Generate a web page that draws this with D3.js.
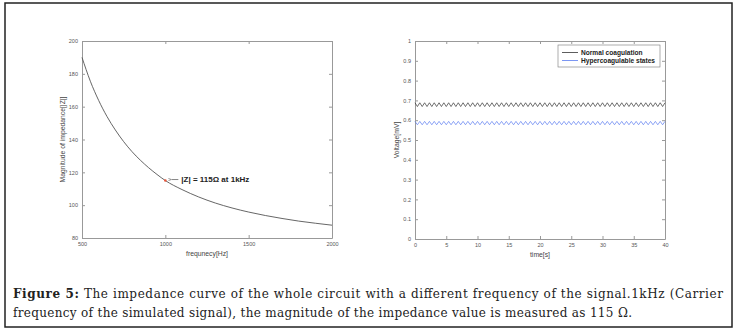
<!DOCTYPE html>
<html>
<head>
<meta charset="utf-8">
<script src="https://cdn.jsdelivr.net/npm/d3@7"></script>
<style>
  body { margin: 0; background: #fff; }
  svg { display: block; }
  .tick text { font-family: "Liberation Sans", Arial, sans-serif; font-size: 5.5px; fill: #555; }
  .tick line { stroke: #999; }
  .domain { stroke: #999; }
</style>
</head>
<body>
<div class="main"></div>
<script>
// impedance curve
let freq = [500, 550, 600, 650, 700, 750, 800, 850, 900, 950, 1000, 1100, 1200, 1300, 1400, 1500, 1600, 1700, 1800, 1900, 2000];
let impedance = [190, 175.5, 163.8, 154, 145.8, 138.7, 132.6, 127.4, 122.8, 118.7, 115, 109.5, 105, 101.3, 98.3, 95.8, 93.7, 91.9, 90.3, 89, 87.8];
let freqTicks = [500, 1000, 1500, 2000];
let impTicks = [80, 100, 120, 140, 160, 180, 200];

// voltage signals: one peak/trough pair per cycle
let timeTicks = [0, 5, 10, 15, 20, 25, 30, 35, 40];
let voltTicks = [0, 0.1, 0.2, 0.3, 0.4, 0.5, 0.6, 0.7, 0.8, 0.9, 1];
let cycles = 52;
let normalCycle = [0.688, 0.669];
let hyperCycle = [0.594, 0.577];
let seriesNames = ["Normal coagulation", "Hypercoagulable states"];
let seriesColors = ["#333", "#5b7cf0"];

let width = 738, height = 333;

let svg = d3.select("div.main").append("svg")
  .attr("width", width)
  .attr("height", height);

// outer frame
svg.append("rect")
  .attr("x", 5).attr("y", 3)
  .attr("width", 727).attr("height", 324)
  .attr("fill", "none")
  .attr("stroke", "#222")
  .attr("stroke-width", 1.5);

// draws a matlab-like box with ticks on all four sides
function box(g, x, y, xTicks, yTicks, xFmt, yFmt) {
  let x0 = x.range()[0], x1 = x.range()[1];
  let y0 = y.range()[1], y1 = y.range()[0];
  g.append("g").attr("transform", "translate(0," + y1 + ")")
    .call(d3.axisBottom(x).tickValues(xTicks).tickSize(-3).tickSizeOuter(0).tickPadding(4).tickFormat(xFmt));
  g.append("g").attr("transform", "translate(0," + y0 + ")")
    .call(d3.axisTop(x).tickValues(xTicks).tickSize(-3).tickSizeOuter(0).tickFormat(""));
  g.append("g").attr("transform", "translate(" + x0 + ",0)")
    .call(d3.axisLeft(y).tickValues(yTicks).tickSize(-3).tickSizeOuter(0).tickPadding(4).tickFormat(yFmt));
  g.append("g").attr("transform", "translate(" + x1 + ",0)")
    .call(d3.axisRight(y).tickValues(yTicks).tickSize(-3).tickSizeOuter(0).tickFormat(""));
}

// ---------- left: impedance ----------
let xL = d3.scaleLinear().domain([500, 2000]).range([82, 332]);
let yL = d3.scaleLinear().domain([80, 200]).range([238, 41]);
let left = svg.append("g");
box(left, xL, yL, freqTicks, impTicks, d3.format("d"), d3.format("d"));

left.append("path")
  .datum(freq.map(function(f, i) { return [f, impedance[i]]; }))
  .attr("fill", "none")
  .attr("stroke", "#555")
  .attr("stroke-width", 0.9)
  .attr("d", d3.line()
    .x(function(d) { return xL(d[0]); })
    .y(function(d) { return yL(d[1]); })
    .curve(d3.curveMonotoneX));

// marked point at 1kHz
left.append("circle")
  .attr("cx", xL(1000)).attr("cy", yL(115))
  .attr("r", 1.3)
  .attr("fill", "#e8553a");

svg.append("defs").append("marker")
  .attr("id", "arr")
  .attr("viewBox", "0 0 10 10")
  .attr("refX", 0).attr("refY", 5)
  .attr("markerWidth", 5).attr("markerHeight", 5)
  .attr("orient", "auto-start-reverse")
  .append("path")
  .attr("d", "M10,1 L0,5 L10,9")
  .attr("fill", "none")
  .attr("stroke", "#333")
  .attr("stroke-width", 1.5);

left.append("line")
  .attr("x1", xL(1000) + 6).attr("y1", yL(115) - 1)
  .attr("x2", xL(1000) + 13).attr("y2", yL(115) - 1)
  .attr("stroke", "#333")
  .attr("stroke-width", 0.6)
  .attr("marker-start", "url(#arr)");

left.append("text")
  .text("|Z| = 115Ω at 1kHz")
  .attr("x", xL(1000) + 16)
  .attr("y", yL(115) + 1.5)
  .attr("font-family", "Liberation Sans, Arial, sans-serif")
  .attr("font-size", "8px")
  .attr("font-weight", "bold")
  .attr("fill", "#222");

left.append("text")
  .text("frequnecy[Hz]")
  .attr("x", (xL.range()[0] + xL.range()[1]) / 2)
  .attr("y", 256)
  .attr("text-anchor", "middle")
  .attr("font-family", "Liberation Sans, Arial, sans-serif")
  .attr("font-size", "6.8px")
  .attr("fill", "#444");

left.append("text")
  .text("Magnitude of impedance[|Z|]")
  .attr("transform", "translate(65," + (41 + 238) / 2 + ")rotate(-90)")
  .attr("text-anchor", "middle")
  .attr("font-family", "Liberation Sans, Arial, sans-serif")
  .attr("font-size", "6.8px")
  .attr("fill", "#444");

// ---------- right: voltage ----------
let xR = d3.scaleLinear().domain([0, 40]).range([415, 665]);
let yR = d3.scaleLinear().domain([0, 1]).range([239, 41]);
let right = svg.append("g");
box(right, xR, yR, timeTicks, voltTicks, d3.format("d"), function(d) { return d === 0 || d === 1 ? d : d3.format(".1f")(d); });

let period = 40 / cycles;
[normalCycle, hyperCycle].forEach(function(c, k) {
  let pts = [];
  for (let i = 0; i < cycles; i++) {
    pts.push([i * period, c[0]]);
    pts.push([(i + 0.5) * period, c[1]]);
  }
  pts.push([40, c[0]]);
  right.append("path")
    .datum(pts)
    .attr("fill", "none")
    .attr("stroke", seriesColors[k])
    .attr("stroke-width", 0.7)
    .attr("d", d3.line()
      .x(function(d) { return xR(d[0]); })
      .y(function(d) { return yR(d[1]); }));
});

// legend
let legend = right.append("g").attr("transform", "translate(558,45)");
legend.append("rect")
  .attr("width", 102).attr("height", 22)
  .attr("fill", "#fff")
  .attr("stroke", "#777")
  .attr("stroke-width", 0.6);
seriesNames.forEach(function(name, i) {
  legend.append("line")
    .attr("x1", 4).attr("x2", 20)
    .attr("y1", 7.5 + i * 8).attr("y2", 7.5 + i * 8)
    .attr("stroke", seriesColors[i])
    .attr("stroke-width", 0.8);
  legend.append("text")
    .text(name)
    .attr("x", 23)
    .attr("y", 10 + i * 8)
    .attr("font-family", "Liberation Sans, Arial, sans-serif")
    .attr("font-size", "6.6px")
    .attr("font-weight", "bold")
    .attr("fill", "#222");
});

right.append("text")
  .text("time[s]")
  .attr("x", (xR.range()[0] + xR.range()[1]) / 2)
  .attr("y", 257)
  .attr("text-anchor", "middle")
  .attr("font-family", "Liberation Sans, Arial, sans-serif")
  .attr("font-size", "6.8px")
  .attr("fill", "#444");

right.append("text")
  .text("Voltage[mV]")
  .attr("transform", "translate(399," + (41 + 239) / 2 + ")rotate(-90)")
  .attr("text-anchor", "middle")
  .attr("font-family", "Liberation Sans, Arial, sans-serif")
  .attr("font-size", "6.8px")
  .attr("fill", "#444");

// ---------- caption ----------
let cap1 = svg.append("text")
  .attr("x", 13).attr("y", 298)
  .attr("font-family", "DejaVu Serif, serif")
  .attr("font-size", "12px")
  .attr("fill", "#222")
  .attr("textLength", 710)
  .attr("lengthAdjust", "spacing");
cap1.append("tspan").attr("font-weight", "bold").text("Figure 5:");
cap1.append("tspan").text(" The impedance curve of the whole circuit with a different frequency of the signal.1kHz (Carrier");

svg.append("text")
  .attr("x", 13).attr("y", 317)
  .attr("font-family", "DejaVu Serif, serif")
  .attr("font-size", "12px")
  .attr("fill", "#222")
  .attr("textLength", 619)
  .attr("lengthAdjust", "spacing")
  .text("frequency of the simulated signal), the magnitude of the impedance value is measured as 115 Ω.");
</script>
</body>
</html>
